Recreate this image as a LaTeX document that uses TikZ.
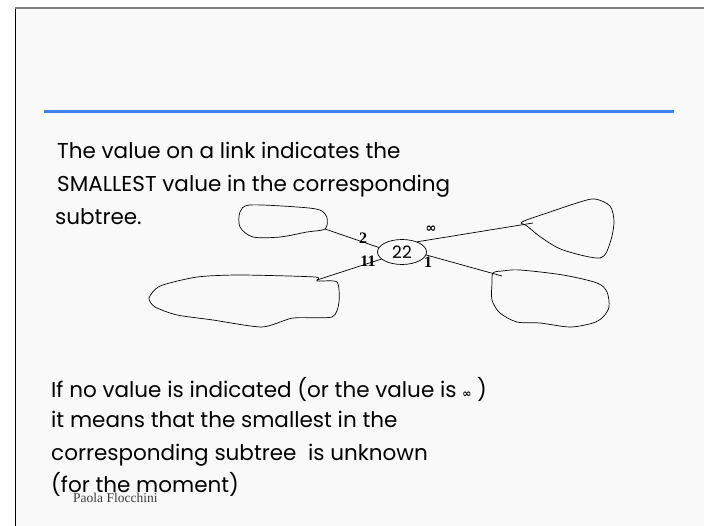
\documentclass[tikz,border=0pt]{standalone}
\usepackage{amsmath}
\usepackage{fontspec}
\setmainfont{Poppins}
\newfontfamily\lblfont{Liberation Serif}
\newfontfamily\symfont{DejaVu Sans}
\usetikzlibrary{shapes.geometric}
\definecolor{slidebg}{RGB}{249,249,249}
\definecolor{ruleblue}{RGB}{64,128,240}
\definecolor{footgray}{RGB}{60,60,60}

\begin{document}
\begin{tikzpicture}[x=1pt, y=-1pt,
    txt/.style={anchor=base west, inner sep=0pt, font=\fontsize{21.5}{24}\selectfont},
    lbl/.style={inner sep=0pt, font=\lblfont\bfseries\fontsize{16}{16}\selectfont},
    root/.style={ellipse, draw, line width=0.7pt, minimum width=49pt, minimum height=25pt,
                 inner sep=0pt, font=\fontsize{17}{17}\selectfont},
    blob/.style={line width=0.7pt},
    link/.style={line width=0.7pt},
]
\useasboundingbox (0,0) rectangle (704,526);

% slide
\fill[white] (0,0) rectangle (704,526);
\fill[slidebg] (15,8) rectangle (704,526);
\draw[line width=1pt] (15,8) -- (15,526);
\draw[gray, line width=2pt] (15,8) -- (704,8);
\draw[ruleblue, line width=3pt] (44,112) -- (674,112);

% text
\node[txt] (head1) at (57,159) {The value on a link indicates the};
\node[txt] (head2) at (57,192) {SMALLEST value in the corresponding};
\node[txt] (head3) at (55,225) {subtree.};
\node[txt] (note1) at (51,397) {If no value is indicated (or the value is {\symfont\bfseries\fontsize{11}{11}\selectfont ∞} )};
\node[txt] (note2) at (51,428) {it means that the smallest in the};
\node[txt] (note3) at (51,460) {corresponding subtree\ \ is unknown};
\node[txt] (note4) at (51,492) {(for the moment)};
\node[anchor=base west, inner sep=0pt, text=footgray, font=\lblfont\fontsize{13.5}{14}\selectfont]
    (foot) at (73,502) {Paola Flocchini};

% root and subtrees
\node[root] (root) at (402,252) {22};

\draw[blob] plot[smooth cycle, tension=0.5] coordinates {
    (325,229) (327,218) (320,210) (297,207) (250,205) (240,212)
    (240,227) (253,237) (280,237) (307,232)};
\draw[blob] plot[smooth cycle, tension=0.5] coordinates {
    (522,222) (547,213) (580,202) (595,199) (610,206) (614,222)
    (610,243) (600,258) (563,250) (542,238) (527,226)};
\draw[blob] plot[smooth cycle, tension=0.4] coordinates {
    (317,281) (337,282) (339,302) (332,317) (293,318) (262,327)
    (213,320) (177,315) (155,307) (149,298) (160,286) (197,277)
    (240,275) (315,277)};
\draw[blob] plot[smooth cycle, tension=0.5] coordinates {
    (493,273) (502,271) (520,270) (563,275) (597,283) (607,292)
    (609,307) (603,317) (593,323) (570,327) (540,323) (517,322)
    (500,313) (492,300) (492,283)};

\coordinate (tipul) at (325,229);
\coordinate (tipur) at (533,223);
\coordinate (tipll) at (317,280);
\coordinate (tiplr) at (502,276);

% links
\draw[link] (root.169) -- (tipul);
\draw[link] (root.34) -- (tipur);
\draw[link] (root.199) -- (tipll);
\draw[link] (root.-7) -- (tiplr);

\node[lbl] (lul) at (363,238) {2};
\node[lbl] (lur) at (431,229) {\symfont\bfseries\fontsize{13}{13}\selectfont ∞};
\node[lbl] (lll) at (368,261) {11};
\node[lbl] (llr) at (428,262) {1};

\end{tikzpicture}
\end{document}
